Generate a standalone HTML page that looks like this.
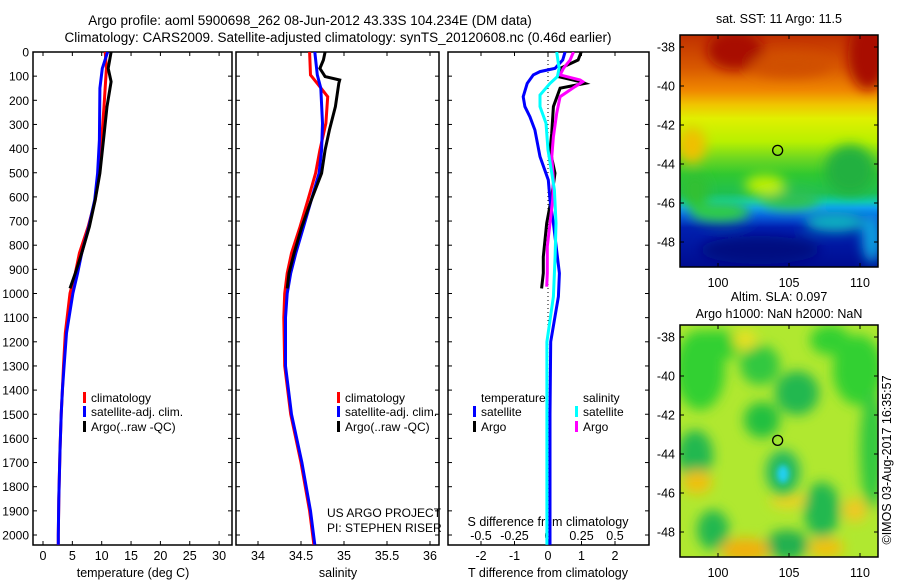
<!DOCTYPE html>
<html><head><meta charset="utf-8">
<style>
html,body{margin:0;padding:0;background:#fff;}
svg text{font-family:"Liberation Sans",sans-serif;fill:#000;}
</style></head>
<body>
<svg id="c" width="900" height="580" viewBox="0 0 900 580" xmlns="http://www.w3.org/2000/svg">
<defs>
<filter id="blur6" x="-50%" y="-50%" width="200%" height="200%"><feGaussianBlur stdDeviation="6"/></filter>
<filter id="blur3" x="-50%" y="-50%" width="200%" height="200%"><feGaussianBlur stdDeviation="3"/></filter>
<linearGradient id="sstg" x1="0" y1="0" x2="0" y2="1">
<stop offset="0" stop-color="#c03000"/><stop offset="0.14" stop-color="#d85800"/><stop offset="0.24" stop-color="#f08800"/><stop offset="0.3" stop-color="#f0c400"/><stop offset="0.36" stop-color="#e0f000"/><stop offset="0.46" stop-color="#b8f000"/><stop offset="0.53" stop-color="#70d820"/><stop offset="0.6" stop-color="#30c830"/><stop offset="0.68" stop-color="#20c050"/><stop offset="0.72" stop-color="#10c8b0"/><stop offset="0.745" stop-color="#10a0f0"/><stop offset="0.78" stop-color="#0860e0"/><stop offset="0.83" stop-color="#0020b0"/><stop offset="1" stop-color="#000c90"/>
</linearGradient>
<clipPath id="clipm1"><rect x="680" y="35" width="198" height="232"/></clipPath>
<clipPath id="clipm2"><rect x="680" y="325" width="198" height="232"/></clipPath>
<clipPath id="clipp1"><rect x="33" y="52" width="199" height="493"/></clipPath>
<clipPath id="clipp2"><rect x="236" y="52" width="203" height="493"/></clipPath>
<clipPath id="clipp3"><rect x="448" y="52" width="201" height="493"/></clipPath>
</defs>
<text x="310" y="25" font-size="13.5" text-anchor="middle">Argo profile: aoml 5900698_262 08-Jun-2012 43.33S 104.234E (DM data)</text>
<text x="338" y="42" font-size="13.5" text-anchor="middle">Climatology: CARS2009. Satellite-adjusted climatology: synTS_20120608.nc (0.46d earlier)</text>
<g id="layer"></g>
</svg>
<script>
// ---------- data ----------
const depthTicks = [0,100,200,300,400,500,600,700,800,900,1000,1100,1200,1300,1400,1500,1600,1700,1800,1900,2000];
const tempTicks = [0,5,10,15,20,25,30];
const salTicks = [34,34.5,35,35.5,36];
const salTickLabels = ["34","34.5","35","35.5","36"];
const tdTicks = [-2,-1,0,1,2];
const sdTicks = [-0.5,-0.25,0,0.25,0.5];
const sdTickLabels = ["-0.5","-0.25","0","0.25","0.5"];

const tClimDepth = [0,68,226,364,502,613,723,833,916,999,1164,1300,1400,1500,1650,1850,2000,2040];
const tClimVal   = [10.6,10.8,10.4,10.0,9.5,8.9,7.7,6.2,5.5,4.6,3.8,3.5,3.3,3.1,2.9,2.7,2.6,2.6];
const tSatDepth  = [0,68,150,364,502,613,723,833,916,999,1164,1300,1400,1500,1650,1850,2000,2040];
const tSatVal    = [11.0,10.1,9.7,9.6,9.3,8.8,7.8,6.6,5.9,5.1,4.0,3.6,3.3,3.1,2.9,2.7,2.6,2.6];
const tArgoDepth = [0,68,123,226,364,502,613,723,833,916,979];
const tArgoVal   = [11.6,11.1,11.6,10.9,10.3,9.7,8.9,7.9,6.6,5.5,4.6];

const sClimDepth = [0,95,130,185,295,406,502,613,723,833,916,1000,1100,1300,1500,1700,1900,2040];
const sClimVal   = [34.6,34.61,34.69,34.81,34.79,34.72,34.67,34.58,34.49,34.39,34.34,34.31,34.30,34.31,34.38,34.5,34.6,34.65];
const sSatDepth  = [0,95,150,295,406,502,613,723,833,916,1000,1100,1300,1500,1700,1900,2040];
const sSatVal    = [34.66,34.69,34.73,34.75,34.74,34.71,34.62,34.53,34.44,34.38,34.34,34.32,34.32,34.39,34.51,34.61,34.66];
const sArgoDepth = [0,33,68,102,116,130,226,323,406,502,613,723,833,916,979];
const sArgoVal   = [34.78,34.76,34.72,34.78,34.95,34.94,34.9,34.83,34.78,34.74,34.62,34.51,34.42,34.36,34.34];

const dtSatDepth = [0,33,68,81,95,130,185,226,268,323,433,530,613,709,848,916,1013,1200,1500,1800,2040];
const dtSatVal   = [0.51,0.44,0.21,-0.24,-0.44,-0.62,-0.74,-0.69,-0.54,-0.39,-0.24,0.01,0.06,0.16,0.28,0.34,0.31,0.08,0.06,0.06,0.06];
const dtArgoDepth = [0,33,68,102,123,130,150,226,337,406,502,599,709,778,848,916,979];
const dtArgoVal   = [0.99,0.9,0.36,0.31,0.96,1.1,0.36,0.16,0.11,0.06,0.21,0.11,-0.04,-0.09,-0.14,-0.14,-0.19];
const dsSatDepth = [0,68,102,130,178,226,295,406,502,571,709,848,1013,1200,1500,1800,2040];
const dsSatVal   = [0.065,0.083,0.07,0.015,-0.06,-0.06,-0.015,0.0,0.028,0.048,0.06,0.053,0.04,-0.008,-0.008,-0.008,-0.008];
const dsArgoDepth = [0,33,68,95,116,123,144,185,254,351,433,530,613,709,806,916,972];
const dsArgoVal   = [0.19,0.165,0.115,0.09,0.24,0.26,0.2,0.09,0.065,0.04,0.028,0.04,0.035,0.015,-0.005,-0.005,-0.01];

// ---------- geometry ----------
const Y0 = 52, YB = 545, PX100 = 24.15;
const yD = d => Y0 + d * PX100 / 100;
const panels = {
  p1: {l:33, r:232, x:v => 43 + v*5.87},
  p2: {l:236, r:439, x:v => 258 + (v-34)*86},
  p3: {l:448, r:649, x:v => 548 + v*33.5},
};
const xS3 = v => 548 + v*4*33.5;

const NS = 'http://www.w3.org/2000/svg';
const layer = document.getElementById('layer');
function el(tag, attrs, parent){
  const e = document.createElementNS(NS, tag);
  for (const k in attrs) e.setAttribute(k, attrs[k]);
  (parent||layer).appendChild(e);
  return e;
}
function txt(x,y,s,size,anchor,parent){
  const t = el('text',{x:x,y:y,'font-size':size,'text-anchor':anchor||'middle'},parent);
  t.textContent = s;
  return t;
}

function frame(p, name){
  const g = el('g',{});
  
  
  el('rect',{x:p.l,y:Y0,width:p.r-p.l,height:YB-Y0,fill:'none',stroke:'#000','stroke-width':1.5},g);
  depthTicks.forEach(d=>{
    const y=yD(d);
    el('line',{x1:p.l,y1:y,x2:p.l+4,y2:y,stroke:'#000','stroke-width':1},g);
    el('line',{x1:p.r,y1:y,x2:p.r-4,y2:y,stroke:'#000','stroke-width':1},g);
  });
  return g;
}
function line(p, xf, depths, vals, color, name, clip){
  const pts = depths.map((d,i)=>xf(vals[i]).toFixed(1)+','+yD(d).toFixed(1)).join(' ');
  const pl = el('polyline',{points:pts,fill:'none',stroke:color,'stroke-width':3,'stroke-linejoin':'miter','clip-path':'url(#'+clip+')'});
  
  
}
function legendEntry(x,y,color,label,name){
  const g = el('g',{});
  
  
  el('rect',{x:x,y:y-10,width:3,height:11,fill:color},g);
  txt(x+8,y,label,12,'start',g);
}

// panel 1
frame(panels.p1,'temperature-panel');
depthTicks.forEach(d=>{ const t=txt(29,yD(d)+4.5,String(d),12,'end');  });
tempTicks.forEach(v=>{
  const x=panels.p1.x(v);
  el('line',{x1:x,y1:YB,x2:x,y2:YB-4,stroke:'#000'});
  el('line',{x1:x,y1:Y0,x2:x,y2:Y0+4,stroke:'#000'});
  txt(x,560,String(v),12.5);
});
txt(133,577,'temperature (deg C)',12.5);
line(panels.p1,panels.p1.x,tClimDepth,tClimVal,'#ff0000','temp-climatology-line','clipp1');
line(panels.p1,panels.p1.x,tSatDepth,tSatVal,'#0000ff','temp-satellite-line','clipp1');
line(panels.p1,panels.p1.x,tArgoDepth,tArgoVal,'#000000','temp-argo-line','clipp1');
legendEntry(83,402,'#ff0000','climatology','legend-climatology');
legendEntry(83,416,'#0000ff','satellite-adj. clim.','legend-satellite');
legendEntry(83,431,'#000000','Argo(..raw -QC)','legend-argo');

// panel 2
frame(panels.p2,'salinity-panel');
salTicks.forEach((v,i)=>{
  const x=panels.p2.x(v);
  el('line',{x1:x,y1:YB,x2:x,y2:YB-4,stroke:'#000'});
  el('line',{x1:x,y1:Y0,x2:x,y2:Y0+4,stroke:'#000'});
  txt(x,560,salTickLabels[i],12.5);
});
txt(338,577,'salinity',12.5);
line(panels.p2,panels.p2.x,sClimDepth,sClimVal,'#ff0000','sal-climatology-line','clipp2');
line(panels.p2,panels.p2.x,sSatDepth,sSatVal,'#0000ff','sal-satellite-line','clipp2');
line(panels.p2,panels.p2.x,sArgoDepth,sArgoVal,'#000000','sal-argo-line','clipp2');
legendEntry(337,402,'#ff0000','climatology','legend-climatology-2');
legendEntry(337,416,'#0000ff','satellite-adj. clim.','legend-satellite-2');
legendEntry(337,431,'#000000','Argo(..raw -QC)','legend-argo-2');
txt(327,517,'US ARGO PROJECT',12,'start');
txt(327,532,'PI: STEPHEN RISER',12,'start');

// panel 3
frame(panels.p3,'difference-panel');
el('line',{x1:548,y1:Y0,x2:548,y2:YB,stroke:'#000','stroke-width':1,'stroke-dasharray':'1,3'});
tdTicks.forEach(v=>{
  const x=panels.p3.x(v);
  el('line',{x1:x,y1:YB,x2:x,y2:YB-4,stroke:'#000'});
  el('line',{x1:x,y1:Y0,x2:x,y2:Y0+4,stroke:'#000'});
  txt(x,560,v<0?'-'+Math.abs(v):String(v),12.5);
});
sdTicks.forEach((v,i)=>{ txt(xS3(v),540,sdTickLabels[i],12.5); });
txt(548,526,'S difference from climatology',12.5);
txt(548,577,'T difference from climatology',12.5);
line(panels.p3,panels.p3.x,dtArgoDepth,dtArgoVal,'#000000','tdiff-argo-line','clipp3');
line(panels.p3,panels.p3.x,dtSatDepth,dtSatVal,'#0000ff','tdiff-satellite-line','clipp3');
line(panels.p3,xS3,dsArgoDepth,dsArgoVal,'#ff00ff','sdiff-argo-line','clipp3');
line(panels.p3,xS3,dsSatDepth,dsSatVal,'#00ffff','sdiff-satellite-line','clipp3');
txt(481,402,'temperature',12,'start');
txt(583,402,'salinity',12,'start');
legendEntry(473,416,'#0000ff','satellite','legend-tdiff-satellite');
legendEntry(473,431,'#000000','Argo','legend-tdiff-argo');
legendEntry(575,416,'#00ffff','satellite','legend-sdiff-satellite');
legendEntry(575,431,'#ff00ff','Argo','legend-sdiff-argo');

// ---------- maps ----------
const lonTicks=[100,105,110];
const latTicks=[-38,-40,-42,-44,-46,-48];
const floatLon=104.2, floatLat=-43.3;
function mapAxes(top, name){
  const mx = lon => 718 + (lon-100)*14.2;
  const my = lat => top + 12 + (-38-lat)*19.5;
  const g = el('g',{});
  
  
  el('rect',{x:680,y:top,width:198,height:232,fill:'none',stroke:'#000','stroke-width':1.5},g);
  lonTicks.forEach(v=>{
    el('line',{x1:mx(v),y1:top+232,x2:mx(v),y2:top+228,stroke:'#000'},g);
    el('line',{x1:mx(v),y1:top,x2:mx(v),y2:top+4,stroke:'#000'},g);
    txt(mx(v),top+252,String(v),12.5,'middle',g);
  });
  latTicks.forEach(v=>{
    el('line',{x1:680,y1:my(v),x2:684,y2:my(v),stroke:'#000'},g);
    el('line',{x1:878,y1:my(v),x2:874,y2:my(v),stroke:'#000'},g);
    txt(675,my(v)+4.5,String(v),12.5,'end',g);
  });
  const c=el('circle',{cx:mx(floatLon),cy:my(floatLat),r:5,fill:'none',stroke:'#000','stroke-width':1.3});
  
  
}
// SST map
const m1 = el('g',{'clip-path':'url(#clipm1)'});


el('rect',{x:680,y:35,width:198,height:232,fill:'url(#sstg)'},m1);
const b1 = el('g',{filter:'url(#blur6)'},m1);
[[735,50,28,20,'#a81000'],[868,55,20,35,'#a81000'],[790,65,40,12,'#d05000'],[692,145,14,18,'#f0c000'],[850,170,25,25,'#20b040'],[790,200,30,10,'#30c050'],[720,212,30,10,'#30d040'],[835,222,30,10,'#10b0c0'],[760,250,60,14,'#000c80'],[872,238,10,25,'#10a0e0'],[765,185,20,10,'#c0f000'],[695,190,14,18,'#30c030']].forEach(a=>{
  el('ellipse',{cx:a[0],cy:a[1],rx:a[2],ry:a[3],fill:a[4]},b1);
});
mapAxes(35,'sst-map');
txt(779,23,'sat. SST: 11 Argo: 11.5',12.5);

// SLA map
const m2 = el('g',{'clip-path':'url(#clipm2)'});


el('rect',{x:680,y:325,width:198,height:232,fill:'#b0e830'},m2);
const b2 = el('g',{filter:'url(#blur6)'},m2);
[[700,370,25,40,'#30d030'],[715,345,30,15,'#30d030'],[760,365,20,20,'#30c840'],[797,393,22,22,'#20b850'],[830,340,20,15,'#30d030'],[858,370,25,35,'#30d030'],[762,420,18,18,'#20c040'],[695,455,18,25,'#20b850'],[872,450,12,60,'#30c840'],[822,510,18,28,'#20b850'],[713,530,16,20,'#20b850'],[787,545,22,15,'#20b050'],[745,550,25,12,'#f0b010'],[697,482,15,12,'#f0c010'],[788,500,18,8,'#f0d020'],[826,548,18,10,'#f0c010'],[855,510,12,12,'#f0c820'],[745,340,12,10,'#e8e020']].forEach(a=>{
  el('ellipse',{cx:a[0],cy:a[1],rx:a[2],ry:a[3],fill:a[4]},b2);
});
el('ellipse',{cx:783,cy:472,rx:17,ry:22,fill:'#20b860',filter:'url(#blur6)'},m2);
el('ellipse',{cx:783,cy:474,rx:6,ry:9,fill:'#20d0f0',filter:'url(#blur3)'},m2);
mapAxes(325,'sla-map');
txt(779,301,'Altim. SLA: 0.097',12.5);
txt(779,318,'Argo h1000: NaN h2000: NaN',12.5);
const cr = txt(0,0,'©IMOS 03-Aug-2017 16:35:57',12.5);
cr.setAttribute('transform','translate(891,460) rotate(-90)');

</script>
</body></html>
